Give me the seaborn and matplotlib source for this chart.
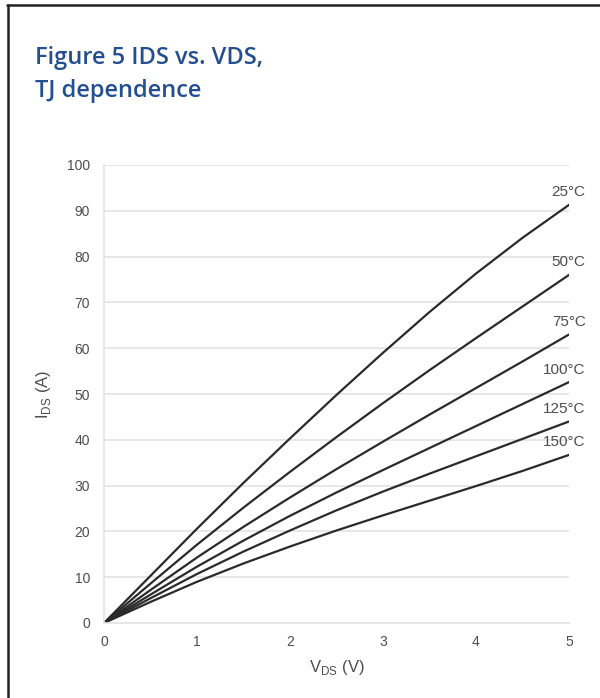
import numpy as np
import pandas as pd
import matplotlib
matplotlib.use("Agg")
import matplotlib.pyplot as plt
from matplotlib.lines import Line2D
import seaborn as sns

vds = [0, 0.5, 1, 1.5, 2, 2.5, 3, 3.5, 4, 4.5, 5]
temps = ["25°C", "50°C", "75°C", "100°C", "125°C", "150°C"]
ids_25 = [0, 10.3, 20.6, 30.6, 40.3, 49.8, 59.0, 67.9, 76.3, 84.1, 91.3]
ids_50 = [0, 8.6, 17.1, 25.2, 33.0, 40.6, 48.0, 55.2, 62.2, 69.1, 76.0]
ids_75 = [0, 7.2, 14.3, 21.0, 27.4, 33.6, 39.6, 45.5, 51.3, 57.1, 63.0]
ids_100 = [0, 6.2, 12.3, 18.0, 23.4, 28.5, 33.4, 38.2, 43.0, 47.8, 52.6]
ids_125 = [0, 5.4, 10.7, 15.6, 20.2, 24.6, 28.7, 32.6, 36.4, 40.2, 44.0]
ids_150 = [0, 4.6, 9.0, 13.0, 16.7, 20.2, 23.5, 26.7, 29.9, 33.2, 36.7]
series = [ids_25, ids_50, ids_75, ids_100, ids_125, ids_150]

x_ticks = [0, 1, 2, 3, 4, 5]
y_ticks = [0, 10, 20, 30, 40, 50, 60, 70, 80, 90, 100]

df = pd.DataFrame({
    "VDS": np.tile(vds, len(temps)),
    "IDS": np.concatenate(series),
    "Tj": np.repeat(temps, len(vds)),
})

sns.set_theme(style="white")
plt.rcParams["font.family"] = ["Liberation Sans", "DejaVu Sans"]

fig = plt.figure(figsize=(6.0, 6.98), dpi=100)
ax = fig.add_axes([104 / 600, 75 / 698, 465 / 600, 458 / 698])

sns.lineplot(data=df, x="VDS", y="IDS", hue="Tj", hue_order=temps,
             palette=["#2a2a2a"] * len(temps), linewidth=1.6, legend=False, ax=ax)

ax.set_xlim(0, 5)
ax.set_ylim(0, 100)
ax.set_xticks(x_ticks)
ax.set_yticks(y_ticks)
ax.set_xticklabels([str(t) for t in x_ticks])
ax.set_yticklabels([str(t) for t in y_ticks])
ax.tick_params(axis="both", colors="#4d4d4d", labelsize=10, length=0)
ax.tick_params(axis="x", pad=9)
ax.tick_params(axis="y", pad=10)
ax.yaxis.grid(True, color="#e3e3e3", linewidth=1.2)
ax.xaxis.grid(False)
for side in ["top", "right"]:
    ax.spines[side].set_visible(False)
for side in ["left", "bottom"]:
    ax.spines[side].set_color("#e3e3e3")
    ax.spines[side].set_linewidth(1.2)

ax.set_xlabel("V$_\\mathregular{DS}$ (V)", color="#4d4d4d", fontsize=12, labelpad=6)
ax.set_ylabel("I$_\\mathregular{DS}$ (A)", color="#4d4d4d", fontsize=12, labelpad=10)

for t, s in zip(temps, series):
    ax.annotate(t, xy=(5, s[-1]), xytext=(12, 4), textcoords="offset points",
                ha="right", va="bottom", color="#4d4d4d", fontsize=11)

fig.text(35 / 600, 1 - 58 / 698, "Figure 5 IDS vs. VDS,", color="#234e8f",
         fontsize=17, fontweight="semibold", family=["Open Sans", "DejaVu Sans"], va="center")
fig.text(35 / 600, 1 - 91 / 698, "TJ dependence", color="#234e8f",
         fontsize=17, fontweight="semibold", family=["Open Sans", "DejaVu Sans"], va="center")

fig.add_artist(Line2D([7 / 600, 1.0], [1 - 4.5 / 698, 1 - 4.5 / 698], color="#222222", linewidth=1.8))
fig.add_artist(Line2D([7.5 / 600, 7.5 / 600], [0, 1 - 4.5 / 698], color="#222222", linewidth=1.8))

fig.savefig("out.png", dpi=100, facecolor="white")
